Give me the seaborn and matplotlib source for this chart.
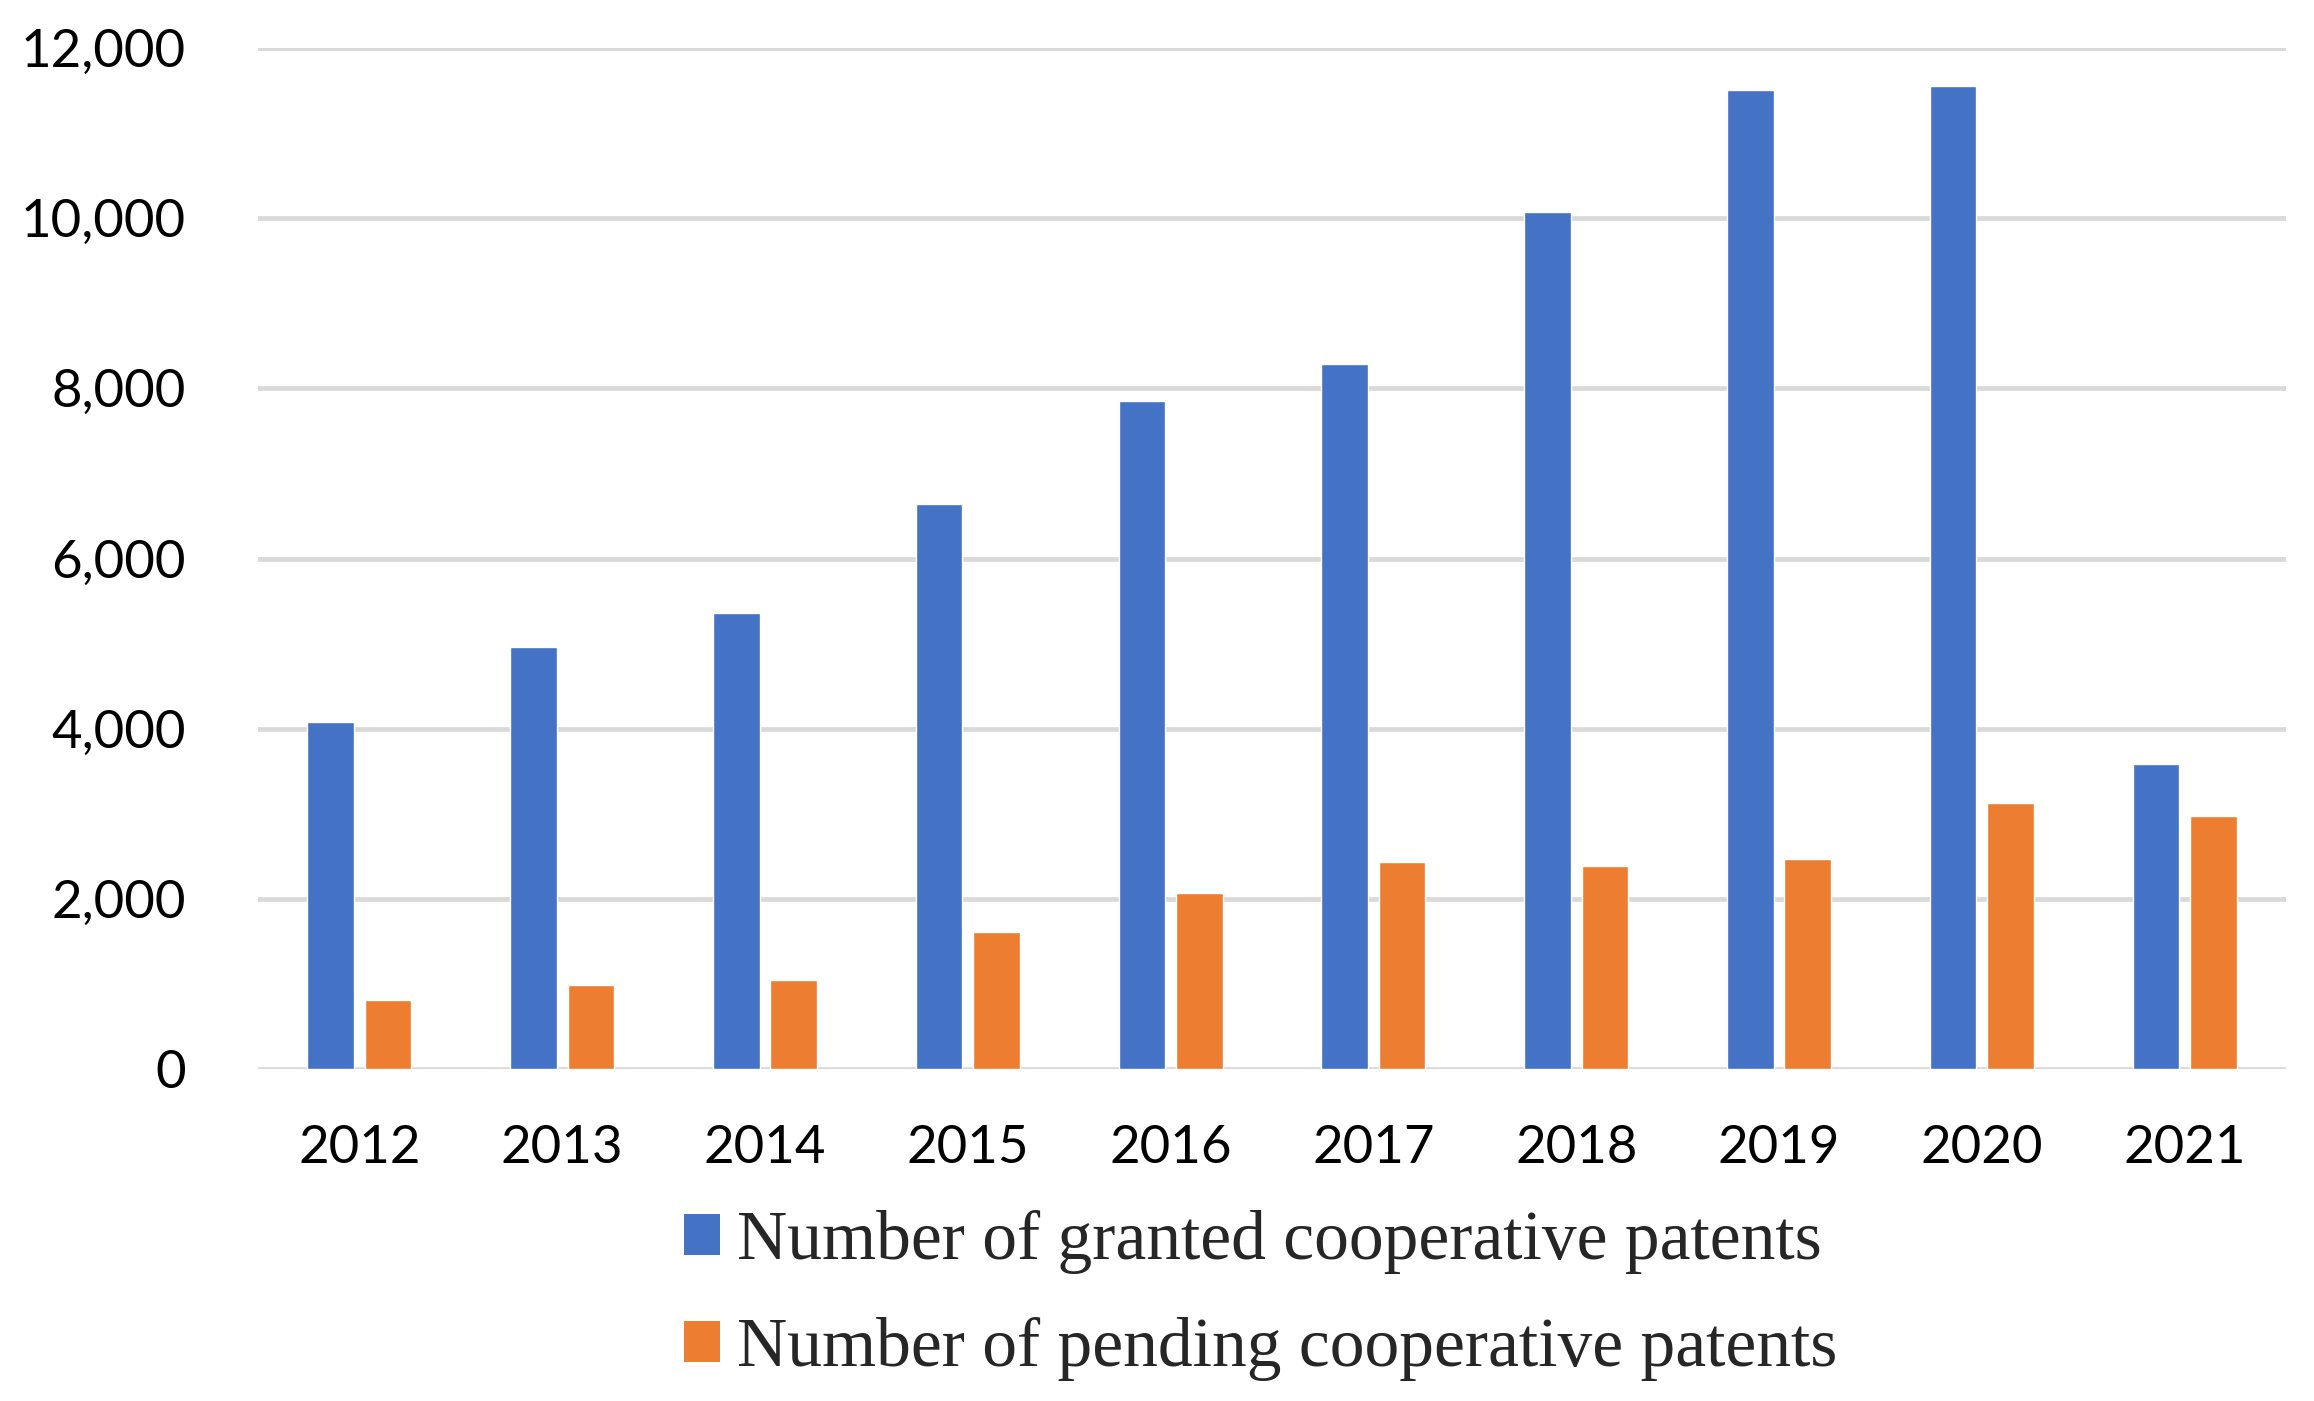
import numpy as np
import pandas as pd
import matplotlib
matplotlib.use("Agg")
import matplotlib.pyplot as plt
import seaborn as sns
from matplotlib.ticker import FuncFormatter
from matplotlib.patches import Patch

# Cooperative patents per year
years = ["2012", "2013", "2014", "2015", "2016", "2017", "2018", "2019", "2020", "2021"]
granted = [4080, 4965, 5360, 6640, 7855, 8290, 10075, 11505, 11555, 3590]
pending = [815, 990, 1050, 1610, 2070, 2435, 2390, 2465, 3130, 2975]
series_names = ["Number of granted cooperative patents",
                "Number of pending cooperative patents"]
colors = ["#4472C4", "#ED7D31"]
y_ticks = [0, 2000, 4000, 6000, 8000, 10000, 12000]

df = pd.DataFrame({
    "year": years * 2,
    "count": granted + pending,
    "series": [series_names[0]] * len(years) + [series_names[1]] * len(years),
})

sns.set_style("white")
plt.rcParams["font.family"] = ["Lato", "DejaVu Sans"]

W, H = 2314, 1401
fig = plt.figure(figsize=(W / 100, H / 100), dpi=100)
ax = fig.add_axes([258 / W, 1 - 1069 / H, (2286 - 258) / W, (1069 - 48) / H])

sns.barplot(data=df, x="year", y="count", hue="series", palette=colors,
            width=0.566, gap=0.19, ax=ax, legend=False, saturation=1)

ax.set_ylim(0, 12000)
ax.set_xlim(-0.5, len(years) - 0.5)
ax.set_yticks(y_ticks)
ax.yaxis.set_major_formatter(FuncFormatter(lambda v, p: f"{int(v):,}"))
ax.grid(axis="y", color="#D9D9D9", linewidth=3.4)
ax.set_axisbelow(True)
for s in ax.spines.values():
    s.set_visible(False)
ax.tick_params(axis="both", length=0, labelsize=38, colors="black")
ax.tick_params(axis="y", pad=52)
ax.tick_params(axis="x", pad=40)
ax.set_xlabel("")
ax.set_ylabel("")

handles = [Patch(facecolor=c, edgecolor="none") for c in colors]
fig.legend(handles, series_names, loc="upper left",
           bbox_to_anchor=(684 / W, 1 - 1210 / H), frameon=False,
           prop={"family": "Liberation Serif", "size": 50},
           handlelength=0.52, handleheight=0.52, handletextpad=0.24,
           labelspacing=0.62, borderpad=0, borderaxespad=0)

fig.savefig("out.png", dpi=100, facecolor="white")
